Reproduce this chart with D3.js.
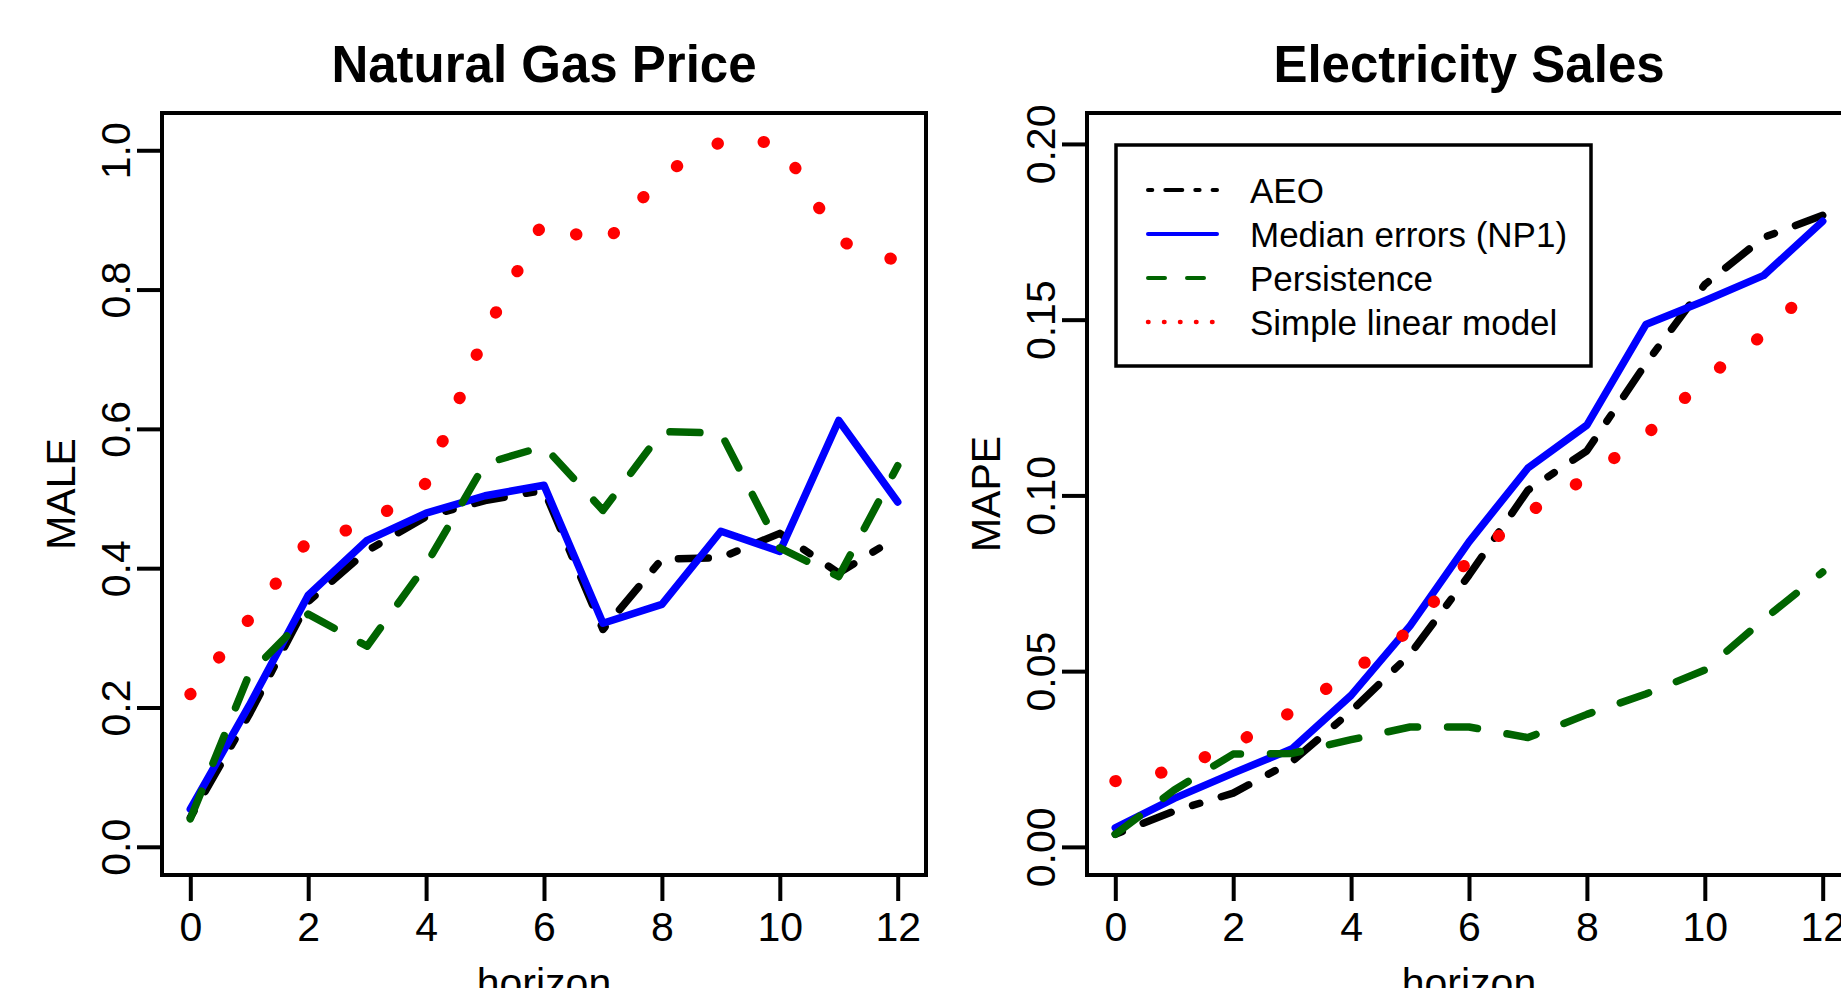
<!DOCTYPE html>
<html>
<head>
<meta charset="utf-8">
<script src="https://cdnjs.cloudflare.com/ajax/libs/d3/7.8.5/d3.min.js"></script>
<style>
	html, body { margin: 0; padding: 0; background: #fff; }
	svg { display: block; font-family: 'Liberation Sans', Arial, Helvetica, sans-serif; }
</style>
</head>
<body>
<div id="chart"></div>
<script>
// forecast horizon (years ahead)
const horizons = [0, 1, 2, 3, 4, 5, 6, 7, 8, 9, 10, 11, 12];
const xTicks = [0, 2, 4, 6, 8, 10, 12];
const gasTicks = [0, 0.2, 0.4, 0.6, 0.8, 1.0];
const elecTicks = [0, 0.05, 0.10, 0.15, 0.20];

const seriesNames = ['AEO', 'Median errors (NP1)', 'Persistence', 'Simple linear model'];

// Natural Gas Price (MALE)
const gasAEO = [0.042, 0.19, 0.352, 0.425, 0.474, 0.497, 0.512, 0.312, 0.413, 0.415, 0.45, 0.393, 0.445];
const gasNP1 = [0.054, 0.203, 0.361, 0.44, 0.479, 0.504, 0.519, 0.321, 0.348, 0.453, 0.424, 0.612, 0.495];
const gasPersistence = [0.04, 0.248, 0.334, 0.288, 0.405, 0.55, 0.575, 0.483, 0.596, 0.594, 0.429, 0.388, 0.547];
const gasLinear = [0.219, 0.327, 0.44, 0.462, 0.522, 0.737, 0.9, 0.862, 0.965, 1.012, 1.012, 0.87, 0.841];

// Electricity Sales (MAPE)
const elecAEO = [0.0036, 0.0102, 0.0153, 0.0243, 0.0386, 0.0548, 0.0773, 0.1015, 0.1127, 0.1375, 0.16, 0.1734, 0.1797];
const elecNP1 = [0.0054, 0.0138, 0.021, 0.0279, 0.0431, 0.0629, 0.0868, 0.1078, 0.12, 0.1486, 0.1554, 0.1626, 0.178];
const elecPersistence = [0.0036, 0.0162, 0.0264, 0.0266, 0.0305, 0.0341, 0.0341, 0.0311, 0.0377, 0.0435, 0.0503, 0.0647, 0.0782];
const elecLinear = [0.0187, 0.0218, 0.029, 0.0385, 0.0497, 0.0616, 0.0817, 0.0951, 0.105, 0.1171, 0.1331, 0.1458, 0.162];

const lineStyles = [
	{ color: '#000000', width: 7.5, dash: '7.5,22.5,30,22.5', legendWidth: 4, legendDash: '4.3,13,17,13' },
	{ color: '#0000ff', width: 7.5, dash: null, legendWidth: 4, legendDash: null },
	{ color: '#006400', width: 7.5, dash: '30,30', legendWidth: 4, legendDash: '17,22' },
	{ color: '#ff0000', width: 12, dash: '0.5,46', legendWidth: 4.5, legendDash: '0.5,15.5' },
];

const W = 1841, H = 988;
const svg = d3.select('#chart').append('svg')
	.attr('width', W)
	.attr('height', H);

svg.append('rect').attr('width', W).attr('height', H).attr('fill', '#fff');

const drawPanel = (id, box, yDomain, yTicks, yFormat, title, yLabel, series) => {
	const x = d3.scaleLinear().domain([-0.48, 12.48]).range([box.left, box.right]);
	const y = d3.scaleLinear().domain(yDomain).range([box.bottom, box.top]);

	svg.append('clipPath').attr('id', `clip-${id}`)
		.append('rect')
		.attr('x', box.left).attr('y', box.top)
		.attr('width', box.right - box.left).attr('height', box.bottom - box.top);

	const plot = svg.append('g').attr('clip-path', `url(#clip-${id})`);

	const line = d3.line()
		.x((d, i) => x(horizons[i]))
		.y(d => y(d));

	series.forEach((values, i) => {
		const s = lineStyles[i];
		plot.append('path')
			.datum(values)
			.attr('d', line)
			.attr('fill', 'none')
			.attr('stroke', s.color)
			.attr('stroke-width', s.width)
			.attr('stroke-linecap', 'round')
			.attr('stroke-linejoin', 'round')
			.attr('stroke-dasharray', s.dash);
	});

	// box
	svg.append('rect')
		.attr('x', box.left).attr('y', box.top)
		.attr('width', box.right - box.left).attr('height', box.bottom - box.top)
		.attr('fill', 'none')
		.attr('stroke', '#000')
		.attr('stroke-width', 4);

	const xAxis = svg.append('g')
		.attr('transform', `translate(0,${box.bottom})`)
		.call(d3.axisBottom(x).tickValues(xTicks).tickSize(26).tickSizeOuter(0));
	xAxis.select('.domain').remove();
	xAxis.selectAll('line').attr('stroke-width', 4);
	xAxis.selectAll('text')
		.attr('y', 66)
		.attr('dy', null)
		.attr('font-size', 41)
		.attr('font-family', null);

	const yAxis = svg.append('g')
		.attr('transform', `translate(${box.left},0)`)
		.call(d3.axisLeft(y).tickValues(yTicks).tickSize(25).tickSizeOuter(0).tickFormat(d3.format(yFormat)));
	yAxis.select('.domain').remove();
	yAxis.selectAll('line').attr('stroke-width', 4);
	yAxis.selectAll('text')
		.attr('x', null)
		.attr('dy', null)
		.attr('text-anchor', 'middle')
		.attr('transform', 'translate(-32,0) rotate(-90)')
		.attr('font-size', 41)
		.attr('font-family', null);

	const cx = (box.left + box.right) / 2;
	const cy = (box.top + box.bottom) / 2;

	svg.append('text')
		.attr('x', cx).attr('y', 82)
		.attr('text-anchor', 'middle')
		.attr('font-size', 51)
		.attr('font-weight', 'bold')
		.text(title);

	// x label sits partly below the bottom edge, as in the original export
	svg.append('text')
		.attr('x', cx).attr('y', 997)
		.attr('text-anchor', 'middle')
		.attr('font-size', 41)
		.text('horizon');

	svg.append('text')
		.attr('transform', `translate(${box.left - 87},${cy}) rotate(-90)`)
		.attr('text-anchor', 'middle')
		.attr('font-size', 41)
		.text(yLabel);
};

drawPanel('gas', { left: 162, right: 926, top: 113, bottom: 875 }, [-0.0405, 1.0535], gasTicks, '.1f',
	'Natural Gas Price', 'MALE', [gasAEO, gasNP1, gasPersistence, gasLinear]);

drawPanel('elec', { left: 1087, right: 1851, top: 113, bottom: 875 }, [-0.008, 0.2088], elecTicks, '.2f',
	'Electricity Sales', 'MAPE', [elecAEO, elecNP1, elecPersistence, elecLinear]);

// legend
const legend = svg.append('g');
legend.append('rect')
	.attr('x', 1116).attr('y', 145)
	.attr('width', 475).attr('height', 221)
	.attr('fill', '#fff')
	.attr('stroke', '#000')
	.attr('stroke-width', 3.5);

const rows = legend.selectAll('.row')
	.data(seriesNames)
	.enter()
	.append('g')
	.attr('class', 'row')
	.attr('transform', (d, i) => `translate(0,${190 + i * 44})`);

rows.append('line')
	.attr('x1', 1148).attr('x2', 1217)
	.attr('y1', 0).attr('y2', 0)
	.attr('stroke', (d, i) => lineStyles[i].color)
	.attr('stroke-width', (d, i) => lineStyles[i].legendWidth)
	.attr('stroke-linecap', 'round')
	.attr('stroke-dasharray', (d, i) => lineStyles[i].legendDash);

rows.append('text')
	.attr('x', 1250).attr('y', 12.5)
	.attr('font-size', 35)
	.text(d => d);
</script>
</body>
</html>
